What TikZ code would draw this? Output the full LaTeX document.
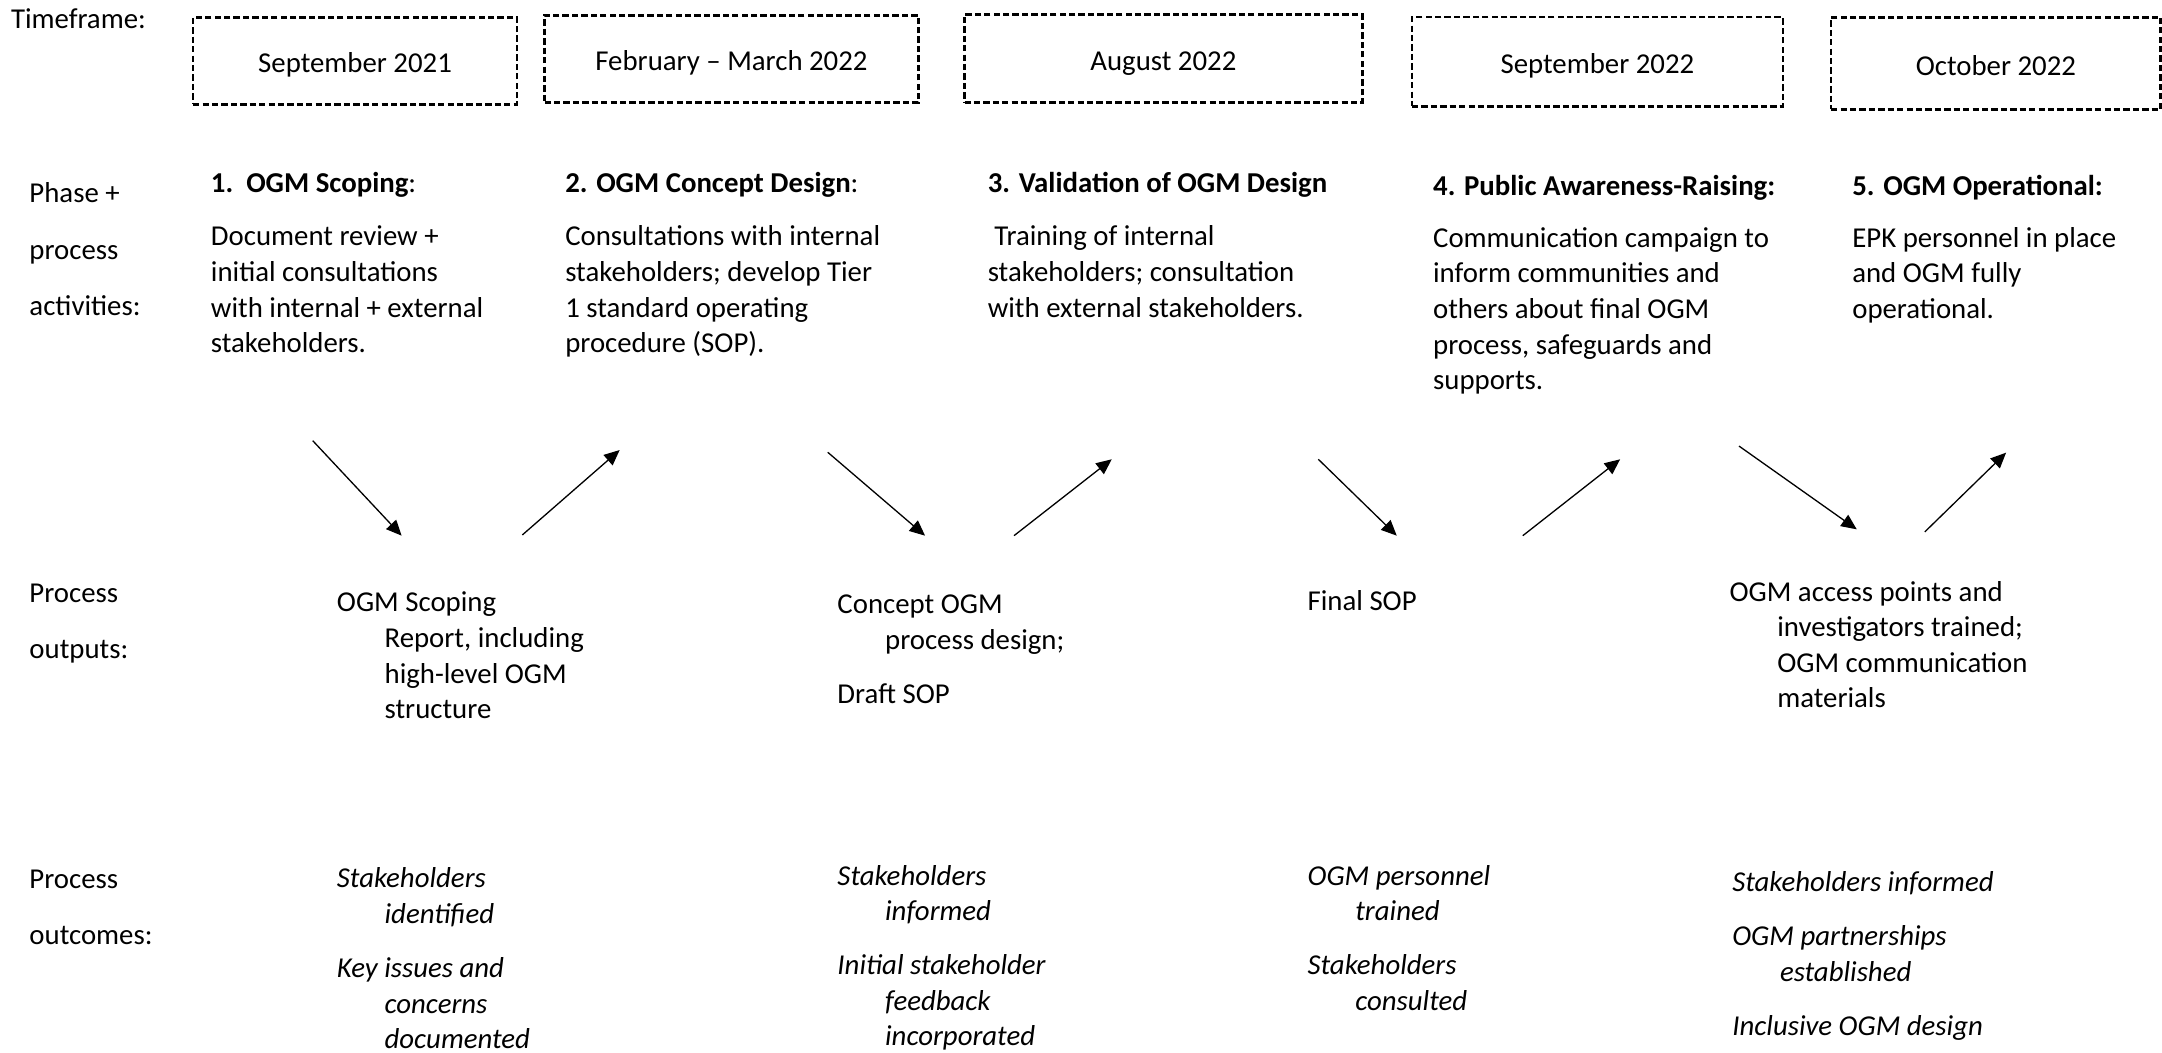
\documentclass[tikz,border=0pt]{standalone}
\usepackage{fontspec}
\setmainfont{Carlito}
\usetikzlibrary{arrows.meta}
\def\fs{\fontsize{11}{13.6}\selectfont}
\def\ind{\hspace*{18.2pt}}

\begin{document}
\begin{tikzpicture}[x=0.5265pt,y=-0.5265pt,
  datebox/.style={draw,line width=1pt,dash pattern=on 2.4pt off 1.2pt,inner sep=0pt,
    text height=9pt,text depth=0pt,font=\fs},
  txt/.style={anchor=north west,inner sep=0pt,align=left,font=\fs,execute at begin node=\strut},
  head/.style={txt,font=\fs\bfseries},
  flow/.style={line width=0.5pt,-{Triangle[length=5.9pt,width=5.2pt]}}]
  \useasboundingbox (0,0) rectangle (1568,763);

  \node[txt] (lblTime) at (7.6,2.5) {Timeframe:};
  \node[txt] (lblPhase) at (21,132) {Phase +\\[8pt]process\\[8pt]activities:};
  \node[txt] (lblOut) at (21,423) {Process\\[8pt]outputs:};
  \node[txt] (lblOutc) at (21,630.5) {Process\\[8pt]outcomes:};

  \node[datebox,minimum width=123.7pt,minimum height=33.2pt] (t1) at (257.5,44.1) {September 2021};
  \node[datebox,minimum width=142.7pt,minimum height=33.4pt] (t2) at (530.5,42.75) {February – March 2022};
  \node[datebox,minimum width=151.9pt,minimum height=33.7pt] (t3) at (843.75,42.5) {August 2022};
  \node[datebox,minimum width=141.6pt,minimum height=34pt] (t4) at (1158.5,44.75) {September 2022};
  \node[datebox,minimum width=125.8pt,minimum height=35.2pt] (t5) at (1447.5,45.9) {October 2022};

  \node[head] (ph1) at (152.6,121) {1.\ \ OGM Scoping\mdseries:};
  \node[head] (ph2) at (409.6,121) {2. OGM Concept Design\mdseries:};
  \node[head] (ph3) at (716,121) {3. Validation of OGM Design};
  \node[head] (ph4) at (1039,123) {4. Public Awareness-Raising:};
  \node[head] (ph5) at (1343,123) {5. OGM Operational:};

  \node[txt] (act1) at (152.6,163.5) {Document review +\\initial consultations\\with internal + external\\stakeholders.};
  \node[txt] (act2) at (409.6,163.5) {Consultations with internal\\stakeholders; develop Tier\\1 standard operating\\procedure (SOP).};
  \node[txt] (act3) at (716,163.5) {\hspace*{2.5pt}Training of internal\\stakeholders; consultation\\with external stakeholders.};
  \node[txt] (act4) at (1039,164.5) {Communication campaign to\\inform communities and\\others about final OGM\\process, safeguards and\\supports.};
  \node[txt] (act5) at (1343,164.5) {EPK personnel in place\\and OGM fully\\operational.};

  \coordinate (d1a) at (226.8,319.6);  \coordinate (d1b) at (291.3,388.5);
  \coordinate (u1a) at (378.8,388);    \coordinate (u1b) at (449.4,326.4);
  \coordinate (d2a) at (600.3,328);    \coordinate (d2b) at (670.9,388.5);
  \coordinate (u2a) at (735.4,388.5);  \coordinate (u2b) at (806.3,333.1);
  \coordinate (d3a) at (956.1,333.1);  \coordinate (d3b) at (1013,388.5);
  \coordinate (u3a) at (1104.4,388.5); \coordinate (u3b) at (1175,333.1);
  \coordinate (d4a) at (1261.2,323.5); \coordinate (d4b) at (1346.6,383.9);
  \coordinate (u4a) at (1395.9,385.8); \coordinate (u4b) at (1454.9,328.3);
  \draw[flow] (d1a) -- (d1b);
  \draw[flow] (u1a) -- (u1b);
  \draw[flow] (d2a) -- (d2b);
  \draw[flow] (u2a) -- (u2b);
  \draw[flow] (d3a) -- (d3b);
  \draw[flow] (u3a) -- (u3b);
  \draw[flow] (d4a) -- (d4b);
  \draw[flow] (u4a) -- (u4b);

  \node[txt] (out1) at (244,429) {OGM Scoping\\\ind Report, including\\\ind high-level OGM\\\ind structure};
  \node[txt] (out2) at (607,431) {Concept OGM\\\ind process design;\\[7pt]Draft SOP};
  \node[txt] (out3) at (948,424) {Final SOP};
  \node[txt] (out4) at (1254,421) {OGM access points and\\\ind investigators trained;\\\ind OGM communication\\\ind materials};

  \node[txt,font=\fs\itshape] (oc1) at (244,629) {Stakeholders\\\ind identified\\[7pt]Key issues and\\\ind concerns\\\ind documented};
  \node[txt,font=\fs\itshape] (oc2) at (607,627) {Stakeholders\\\ind informed\\[7pt]Initial stakeholder\\\ind feedback\\\ind incorporated};
  \node[txt,font=\fs\itshape] (oc3) at (948,627) {OGM personnel\\\ind trained\\[7pt]Stakeholders\\\ind consulted};
  \node[txt,font=\fs\itshape] (oc4) at (1256,632) {Stakeholders informed\\[7pt]OGM partnerships\\\ind established\\[7pt]Inclusive OGM design};
\end{tikzpicture}
\end{document}
